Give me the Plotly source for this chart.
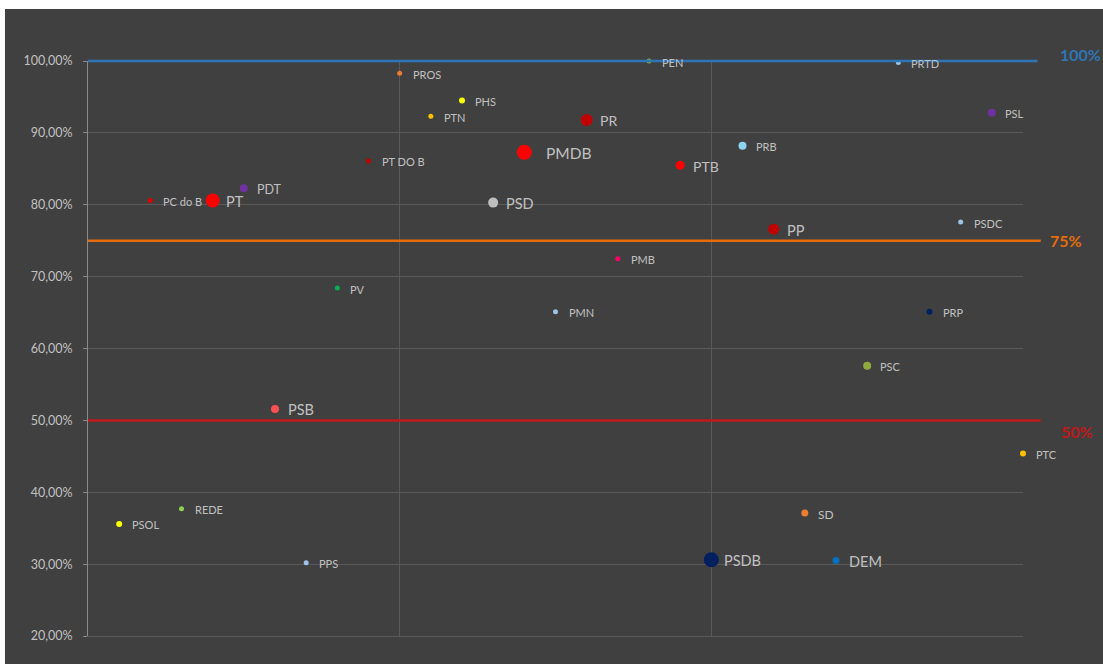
import plotly.graph_objects as go

# ---- data ----
partidos = ["PSOL", "PC do B", "REDE", "PT", "PDT", "PSB", "PPS", "PV", "PT DO B", "PROS",
            "PTN", "PHS", "PSD", "PMDB", "PMN", "PR", "PMB", "PEN", "PTB", "PSDB",
            "PRB", "PP", "SD", "DEM", "PSC", "PRTD", "PRP", "PSDC", "PSL", "PTC"]
ordem = list(range(1, 31))
governismo = [0.356, 0.806, 0.377, 0.806, 0.823, 0.516, 0.302, 0.684, 0.861, 0.983,
              0.923, 0.945, 0.803, 0.873, 0.651, 0.918, 0.725, 1.000, 0.855, 0.306,
              0.882, 0.766, 0.371, 0.305, 0.576, 0.998, 0.651, 0.776, 0.928, 0.454]
peso = [6, 5, 5, 14, 8, 8, 5, 5, 5, 5,
        5, 6, 10, 15, 5, 12, 5, 5, 9, 15,
        8, 11, 7, 7, 8, 5, 6, 5, 8, 6]
cores = ["#FFFF00", "#E00000", "#92D050", "#FF0000", "#7030A0", "#FF5050", "#9DC3E6", "#00B050", "#C00000", "#ED7D31",
         "#FFC000", "#FFFF00", "#BFBFBF", "#FF0000", "#9DC3E6", "#C00000", "#FF0066", "#70AD47", "#FF0000", "#002060",
         "#8DD3F0", "#C00000", "#ED7D31", "#0070C0", "#8FAA3C", "#9DC3E6", "#002060", "#9DC3E6", "#7030A0", "#FFC000"]
rotulo_tam = [11, 11, 11, 14.5, 12.5, 14.5, 11, 11, 11, 11,
              11, 11, 14.5, 15.5, 11, 14, 11, 11, 14, 14.5,
              11, 14.5, 12, 14.5, 11, 11, 11, 11, 11, 11]

limiares = [1.00, 0.75, 0.50]
limiar_txt = ["100%", "75%", "50%"]
limiar_cor = ["#2E75B6", "#E46C0A", "#C01818"]

Y_MIN, Y_MAX = 0.2, 1.0

FONT = "Lato, 'Open Sans', sans-serif"
TXT = "#C0C0C0"
GRID = "#5A5A5A"

fig = go.Figure()
fig.add_trace(go.Scatter(
    x=ordem, y=governismo, mode="markers",
    marker=dict(size=peso, color=cores, opacity=1, line=dict(width=0)),
    cliponaxis=False, hoverinfo="text", text=partidos, showlegend=False,
))

annotations = []
for p, xv, yv, ts in zip(partidos, ordem, governismo, rotulo_tam):
    annotations.append(dict(
        x=xv, y=yv, xref="x", yref="y", text=p, showarrow=False,
        xanchor="left", yanchor="middle", xshift=(20 if p == "PMDB" else 11),
        yshift=-1, font=dict(family=FONT, size=ts, color=TXT),
    ))

shapes = [dict(type="rect", xref="paper", yref="paper", x0=-0.0888, x1=1.09,
               y0=-0.06, y1=1.0904, fillcolor="#404040", line=dict(width=0), layer="below")]
ends = [1.0155, 1.019, 1.019]
lab_x = [1.061, 1.046, 1.058]
lab_shift = [7, 0, -11]
for v, t, c, e, lx, ls in zip(limiares, limiar_txt, limiar_cor, ends, lab_x, lab_shift):
    yp = (v - Y_MIN) / (Y_MAX - Y_MIN)
    shapes.append(dict(type="line", xref="paper", yref="paper", x0=0, x1=e, y0=yp, y1=yp,
                       line=dict(color=c, width=2.5), layer="above"))
    annotations.append(dict(x=lx, y=v, xref="paper", yref="y", text="<b>" + t + "</b>",
                            showarrow=False, xanchor="center", yanchor="middle", yshift=ls,
                            font=dict(family=FONT, size=16, color=c)))

fig.update_layout(
    width=1103, height=664,
    margin=dict(l=88, r=80, t=61, b=28),
    paper_bgcolor="#FFFFFF", plot_bgcolor="#404040",
    separators=",.",
    font=dict(family=FONT, color=TXT),
    shapes=shapes, annotations=annotations,
    xaxis=dict(range=[0, 30], tick0=0, dtick=10, showticklabels=False, ticks="",
               showgrid=True, gridcolor=GRID, gridwidth=1, zeroline=False,
               showline=True, linecolor=GRID, linewidth=1),
    yaxis=dict(range=[Y_MIN, Y_MAX], tick0=0.2, dtick=0.1, tickformat=".2%",
               showgrid=True, gridcolor=GRID, gridwidth=1, zeroline=False,
               showline=True, linecolor="#8A8A8A", linewidth=1,
               ticks="outside", ticklen=4, tickcolor="#8A8A8A", ticklabelstandoff=8,
               tickfont=dict(family=FONT, size=12.5, color=TXT)),
)

fig.write_html("out.html")
